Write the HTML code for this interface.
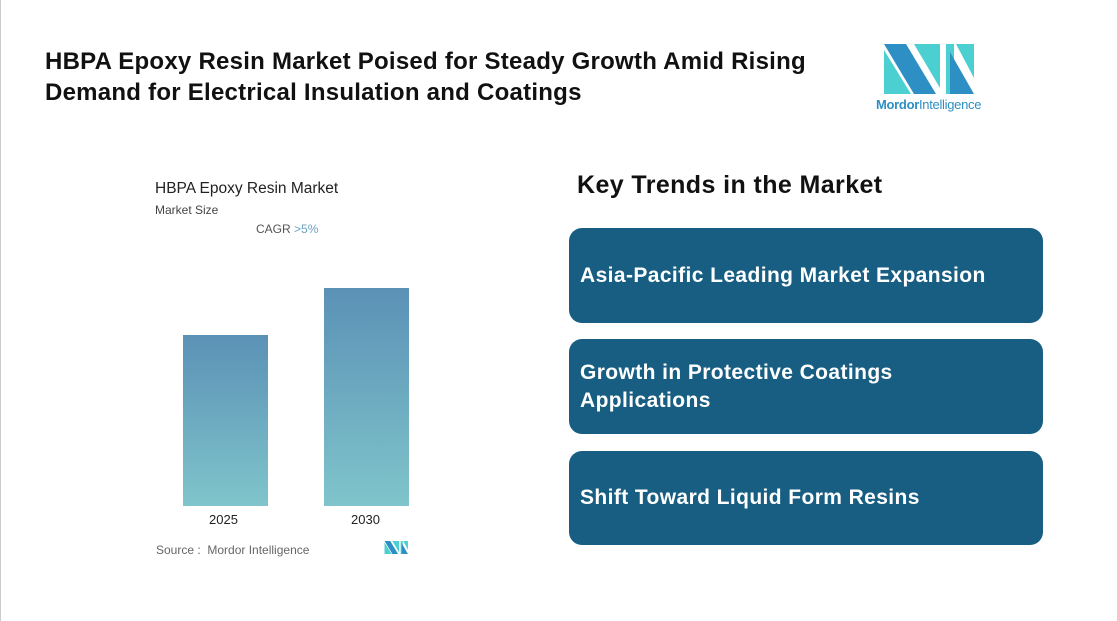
<!DOCTYPE html>
<html><head><meta charset="utf-8"><style>
body{margin:0;width:1117px;height:621px;background:#fff;font-family:"Liberation Sans",sans-serif;position:relative;overflow:hidden}
.a{position:absolute}
h1{position:absolute;left:45px;top:46px;margin:0;font-size:24px;line-height:31px;font-weight:bold;color:#111;letter-spacing:0.25px;white-space:nowrap}
.box{position:absolute;left:569px;width:474px;background:#175e82;border-radius:13px;color:#fff;font-weight:bold;font-size:21px;line-height:28px;box-sizing:border-box;padding-left:11px;display:flex;align-items:center;letter-spacing:0.4px}
.bar{position:absolute;width:85px;background:linear-gradient(#5b91b6,#7fc5cb)}
</style></head><body>
<div class="a" style="left:0;top:0;width:1px;height:621px;background:#ccc"></div>
<h1>HBPA Epoxy Resin Market Poised for Steady Growth Amid Rising<br>Demand for Electrical Insulation and Coatings</h1>
<svg class="a" style="left:884px;top:44px" width="92" height="50" viewBox="0 0 92 50">
<polygon points="0,0 22,0 52,50 30,50 0,0" fill="#2e8fc4"/>
<polygon points="0,6 0,50 27,50" fill="#4ccfd0"/>
<polygon points="30,0 56,0 56,44" fill="#4ccfd0"/>
<polygon points="62,0 70,0 70,50 62,50" fill="#4ccfd0"/>
<polygon points="66,8 90,50 66,50" fill="#2e8fc4"/>
<polygon points="72,0 90,0 90,34" fill="#4ccfd0"/>
</svg>
<div class="a" style="left:876px;top:97px;font-size:13px;color:#2e8fc4;letter-spacing:-0.3px"><b>Mordor</b>Intelligence</div>
<div class="a" style="left:155px;top:180px;font-size:15.5px;color:#222">HBPA Epoxy Resin Market</div>
<div class="a" style="left:155px;top:203px;font-size:12px;color:#444">Market Size</div>
<div class="a" style="left:256px;top:222px;font-size:12px;color:#555">CAGR <span style="color:#6ba3c4">&gt;5%</span></div>
<div class="bar" style="left:183px;top:335px;height:171px"></div>
<div class="bar" style="left:324px;top:288px;height:218px"></div>
<div class="a" style="left:209px;top:512px;font-size:13px;color:#222">2025</div>
<div class="a" style="left:351px;top:512px;font-size:13px;color:#222">2030</div>
<div class="a" style="left:156px;top:543px;font-size:12px;color:#666">Source :&nbsp; Mordor Intelligence</div>
<svg class="a" style="left:384px;top:541px" width="25" height="13" viewBox="0 0 92 50">
<polygon points="0,0 22,0 52,50 30,50" fill="#2e8fc4"/><polygon points="0,6 0,50 27,50" fill="#4ccfd0"/>
<polygon points="30,0 56,0 56,44" fill="#4ccfd0"/><polygon points="62,0 70,0 70,50 62,50" fill="#4ccfd0"/>
<polygon points="66,8 90,50 66,50" fill="#2e8fc4"/><polygon points="72,0 90,0 90,34" fill="#4ccfd0"/></svg>
<div class="a" style="left:577px;top:171px;font-size:25px;font-weight:bold;color:#111;letter-spacing:0.4px">Key Trends in the Market</div>
<div class="box" style="top:228px;height:95px">Asia-Pacific Leading Market Expansion</div>
<div class="box" style="top:339px;height:95px">Growth in Protective Coatings<br>Applications</div>
<div class="box" style="top:451px;height:94px">Shift Toward Liquid Form Resins</div>
</body></html>
